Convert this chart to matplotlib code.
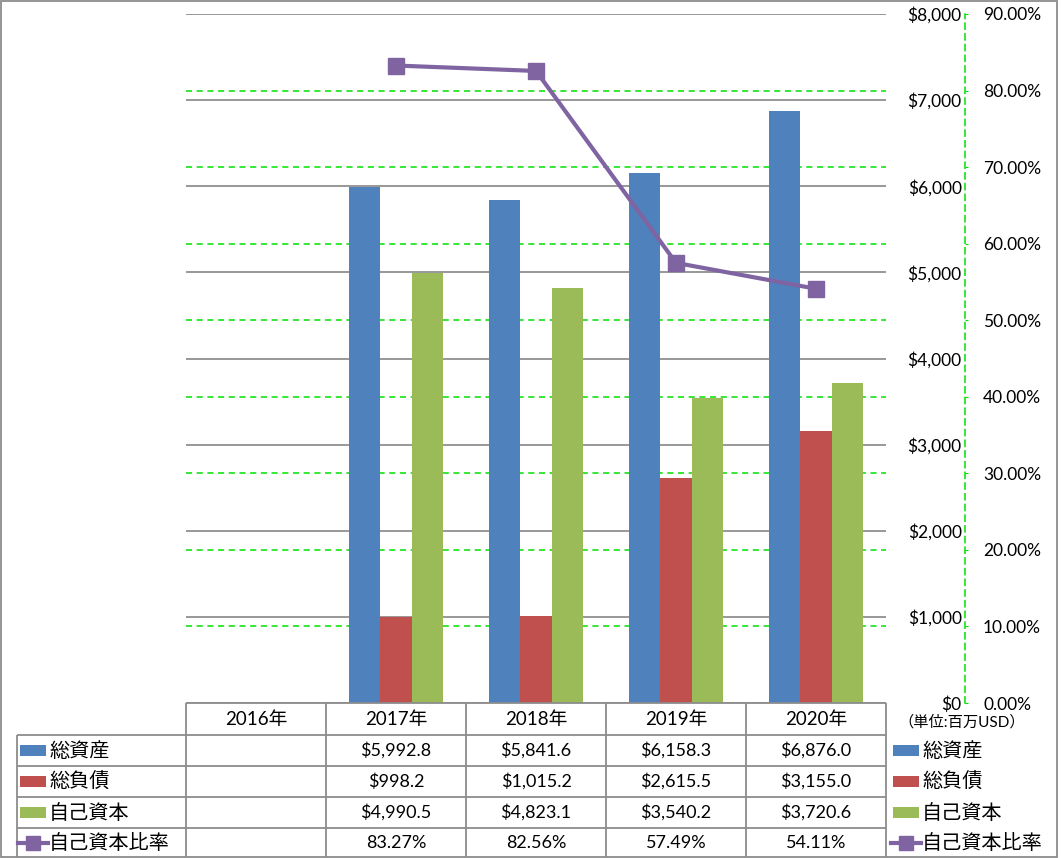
import numpy as np
import matplotlib
matplotlib.use('Agg')
import matplotlib.pyplot as plt
from matplotlib.patches import Rectangle
from matplotlib.ticker import FuncFormatter, MultipleLocator

plt.rcParams['font.family'] = ['Lato', 'Noto Sans CJK JP']

# data (百万USD)
years = ['2016年', '2017年', '2018年', '2019年', '2020年']
total_assets = [np.nan, 5992.8, 5841.6, 6158.3, 6876.0]
total_liab = [np.nan, 998.2, 1015.2, 2615.5, 3155.0]
equity = [np.nan, 4990.5, 4823.1, 3540.2, 3720.6]
equity_ratio = [np.nan, 83.27, 82.56, 57.49, 54.11]

names = ['総資産', '総負債', '自己資本', '自己資本比率']
colors = ['#4F81BD', '#C0504D', '#9BBB59', '#8064A2']

W, H = 1061, 858
L, R, T, B = 186, 886, 14, 703   # plot area in pixels
AX2_X = 965                       # secondary axis position

fig = plt.figure(figsize=(W / 100, H / 100), dpi=100)
ax = fig.add_axes([L / W, 1 - B / H, (R - L) / W, (B - T) / H])
ax2 = ax.twinx()

x = np.arange(len(years))
bw = 0.225
for i, (vals, c) in enumerate(zip([total_assets, total_liab, equity], colors)):
    ax.bar(x + (i - 1) * bw, vals, bw, color=c, zorder=3)

ax.set_xlim(-0.5, len(years) - 0.5)
ax.set_ylim(0, 8000)
ax.yaxis.set_major_locator(MultipleLocator(1000))
ax.yaxis.tick_right()
ax.yaxis.set_major_formatter(FuncFormatter(lambda v, p: f'${v:,.0f}'))
ax.tick_params(axis='y', length=0, pad=54.5, labelsize=12.5)
for lab in ax.get_yticklabels():
    lab.set_horizontalalignment('right')
ax.set_xticks([])
for s in ax.spines.values():
    s.set_visible(False)
ax.grid(axis='y', color='#868686', linewidth=1.2, zorder=1)

# secondary scale gridlines (green dashed) drawn on primary axes behind bars
pct_ticks = np.arange(10, 90, 10)
for p in pct_ticks:
    ax.axhline(p / 90 * 8000, color='#00E000', linestyle=(0, (4, 3)),
               linewidth=1.1, zorder=2)

ax2.plot(x, equity_ratio, color=colors[3], linewidth=3, marker='s',
         markersize=12, zorder=5)
ax2.set_ylim(0, 90)
ax2.yaxis.set_major_locator(MultipleLocator(10))
ax2.yaxis.set_major_formatter(FuncFormatter(lambda v, p: f'{v:.2f}%'))
ax2.spines['right'].set_position(('axes', (AX2_X - L) / (R - L)))
ax2.spines['right'].set_color('#00E000')
ax2.spines['right'].set_linestyle((0, (4, 3)))
ax2.spines['right'].set_linewidth(1.1)
for s in ['left', 'top', 'bottom']:
    ax2.spines[s].set_visible(False)
ax2.tick_params(axis='y', direction='out', length=2.5, color='#00E000',
                pad=10.5, labelsize=12.5)

# table and legends drawn in pixel coordinates
tab = fig.add_axes([0, 0, 1, 1], zorder=10)
tab.set_xlim(0, W)
tab.set_ylim(H, 0)
tab.axis('off')
tab.patch.set_alpha(0)

lc = '#8C8C8C'
rows = [B, 735, 766, 797, 828, 857]
cols = [L + (R - L) * k / len(years) for k in range(len(years) + 1)]
tab.hlines(rows[0], L, R, color=lc, linewidth=1.3)
tab.hlines(rows[1:-1], 17, R, color=lc, linewidth=1.3)
tab.vlines(cols, rows[0], rows[-1], color=lc, linewidth=1.3)
tab.vlines(17, rows[1], rows[-1], color=lc, linewidth=1.3)
tab.add_patch(Rectangle((1, 1), 1056, 856, fill=False, edgecolor=lc, linewidth=1.3))

for k, yr in enumerate(years):
    tab.text((cols[k] + cols[k + 1]) / 2, (rows[0] + rows[1]) / 2, yr,
             ha='center', va='center', fontsize=13.5)

series = [total_assets, total_liab, equity, equity_ratio]
fmts = [lambda v: f'${v:,.1f}'] * 3 + [lambda v: f'{v:.2f}%']
for r, (vals, fmt) in enumerate(zip(series, fmts)):
    yc = (rows[r + 1] + rows[r + 2]) / 2
    for k, v in enumerate(vals):
        if not np.isnan(v):
            tab.text((cols[k] + cols[k + 1]) / 2, yc, fmt(v),
                     ha='center', va='center', fontsize=13)
    # legend keys: left (inside table) and right
    for x0 in (20, 893):
        if r < 3:
            tab.add_patch(Rectangle((x0, yc - 5.5), 26, 11, color=colors[r],
                                    linewidth=0))
        else:
            tab.plot([x0 - 2, x0 + 28], [yc, yc], color=colors[3], linewidth=3)
            tab.plot([x0 + 13], [yc], marker='s', markersize=10,
                     color=colors[3])
        tab.text(x0 + 29, yc, names[r], ha='left', va='center', fontsize=14.5)

tab.text(962, 722, '（単位:百万USD）', ha='center', va='center', fontsize=11)

fig.savefig('out.png', dpi=100)
